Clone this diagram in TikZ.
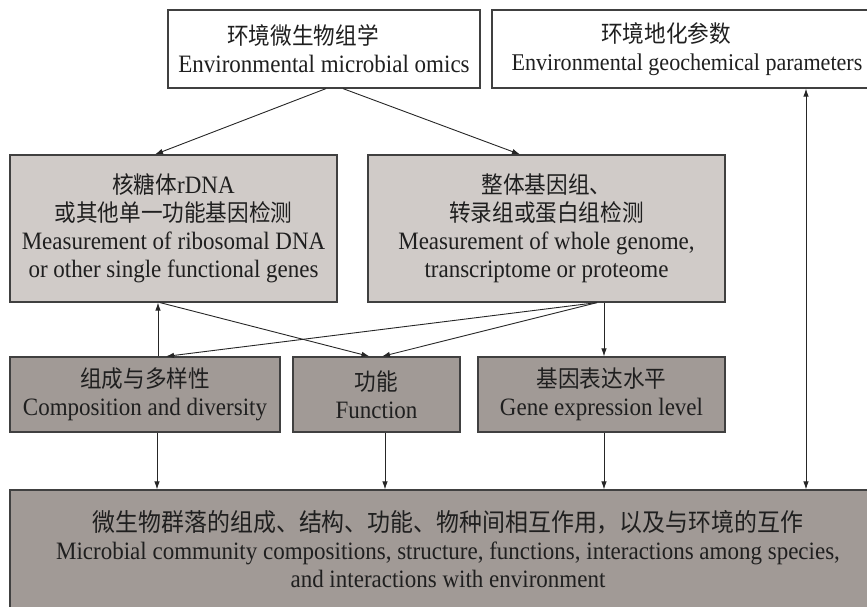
\documentclass[tikz,border=0pt]{standalone}
\usepackage{fontspec}
\setmainfont{Liberation Serif}[FakeStretch=0.92]
\newfontfamily\zhfont{Noto Sans CJK SC}[FakeStretch=0.92,Scale=0.94]
\usetikzlibrary{arrows.meta}
\definecolor{boxlight}{HTML}{D0CBC8}
\definecolor{boxdark}{HTML}{A19A96}
\newcommand\zh[1]{{\zhfont #1}}
\tikzset{
	box/.style={draw=black!75, line width=1.2pt, align=center, inner sep=0pt, text=black!88, font=\fontsize{25}{28}\selectfont},
	whitebox/.style={box, fill=white},
	lightbox/.style={box, fill=boxlight},
	darkbox/.style={box, fill=boxdark},
	arr/.style={line width=0.9pt, color=black!85, -{Latex[length=8pt,width=5.5pt]}},
}

\begin{document}
\begin{tikzpicture}[x=1pt, y=-1pt]
		%%%%% START %%%%%
		\useasboundingbox (0, 0) rectangle (867, 606);
		
		% top row
		\node[whitebox, minimum width=312, minimum height=78] (omics) at (324, 49) {\zh{环境微生物组学}\hspace*{42pt}\\Environmental microbial omics};
		\node[whitebox, minimum width=390, minimum height=78] (geochem) at (687, 49) {\zh{环境地化参数}\hspace*{42pt}\\{\fontsize{24}{28}\selectfont Environmental geochemical parameters}};
		
		% measurement
		\node[lightbox, minimum width=327, minimum height=147] (rdna) at (173.5, 228.5) {\zh{核糖体}rDNA\\\zh{或其他单一功能基因检测}\\Measurement of ribosomal DNA\\or other single functional genes};
		\node[lightbox, minimum width=357, minimum height=147] (whole) at (546.5, 228.5) {\zh{整体基因组、}\\\zh{转录组或蛋白组检测}\\Measurement of whole genome,\\transcriptome or proteome};
		
		% results
		\node[darkbox, minimum width=270, minimum height=75] (comp) at (145, 394.5) {\zh{组成与多样性}\\Composition and diversity};
		\node[darkbox, minimum width=167, minimum height=75] (func) at (376.5, 394.5) {\zh{功能}\\Function};
		\node[darkbox, minimum width=247, minimum height=75] (expr) at (601.5, 394.5) {\zh{基因表达水平}\\Gene expression level};
		
		\node[darkbox, minimum width=876, minimum height=118] (comm) at (448, 549) {{\zhfont\fontsize{26.5}{28}\selectfont 微生物群落的组成、结构、功能、物种间相互作用，以及与环境的互作}\\Microbial community compositions, structure, functions, interactions among species,\\and interactions with environment};
		
		% arrows
		\draw[arr] ([xshift=2]omics.south) -- ([xshift=-18.5]rdna.north);
		\draw[arr] ([xshift=19]omics.south) -- ([xshift=-26.5]whole.north);
		
		\draw[arr] ([xshift=13]comp.north) -- ([xshift=13]comp.north |- rdna.south);
		\draw[arr] ([xshift=-13.5]rdna.south) -- ([xshift=-7]func.north);
		\draw[arr] ([xshift=50.5]whole.south) -- ([xshift=21]comp.north);
		\draw[arr] ([xshift=50.5]whole.south) -- ([xshift=5.5]func.north);
		\draw[arr] ([xshift=2.5]expr.north |- whole.south) -- ([xshift=2.5]expr.north);
		
		\draw[arr] ([xshift=12]comp.south) -- ([xshift=12]comp.south |- comm.north);
		\draw[arr] ([xshift=8.5]func.south) -- ([xshift=8.5]func.south |- comm.north);
		\draw[arr] ([xshift=2.5]expr.south) -- ([xshift=2.5]expr.south |- comm.north);
		
		\draw[arr, {Latex[length=8pt,width=5.5pt]}-{Latex[length=8pt,width=5.5pt]}] ([xshift=119]geochem.south) -- ([xshift=119]geochem.south |- comm.north);
		%%%%% END %%%%%
\end{tikzpicture}
\end{document}
